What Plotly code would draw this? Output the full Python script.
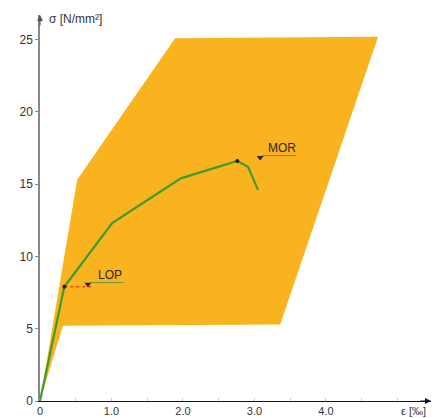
import plotly.graph_objects as go

# Scatter band (envelope) of stress-strain curves
band_strain = [0.0, 0.52, 1.89, 4.73, 3.36, 0.32, 0.0]
band_stress = [0.0, 15.3, 25.1, 25.2, 5.3, 5.2, 0.0]

# Mean stress-strain curve
curve_strain = [0.0, 0.34, 1.01, 1.97, 2.76, 2.91, 3.05]
curve_stress = [0.0, 7.9, 12.3, 15.4, 16.6, 16.2, 14.6]

# Characteristic points
point_names = ["LOP", "MOR"]
point_strain = [0.34, 2.76]
point_stress = [7.9, 16.6]

x_tickvals = [0, 0.5, 1.0, 1.5, 2.0, 2.5, 3.0, 3.5, 4.0, 4.5, 5.0]
x_ticktext = ["0", "", "1.0", "", "2.0", "", "3.0", "", "4.0", "", ""]
y_tickvals = [0, 5, 10, 15, 20, 25]
y_ticktext = ["0", "5", "10", "15", "20", "25"]

ORANGE = "#F8B31F"
GREEN = "#3F9B2C"
FONT = "Liberation Sans, Arial, sans-serif"

fig = go.Figure()

fig.add_trace(go.Scatter(x=band_strain, y=band_stress, mode="lines", fill="toself",
                         fillcolor=ORANGE, line=dict(width=0, color=ORANGE),
                         hoverinfo="skip", showlegend=False))

fig.add_trace(go.Scatter(x=curve_strain, y=curve_stress, mode="lines",
                         line=dict(color=GREEN, width=2.2), showlegend=False))

# Red dotted leader from LOP point
fig.add_trace(go.Scatter(x=[point_strain[0], point_strain[0] + 0.4],
                         y=[point_stress[0], point_stress[0]], mode="lines",
                         line=dict(color="#D0202A", width=1, dash="dot"), showlegend=False))

fig.add_trace(go.Scatter(x=point_strain, y=point_stress, mode="markers",
                         marker=dict(color="#222222", size=4), showlegend=False))

# label markers and underlines
tri_dx = [0.33, 0.32]
tri_dy = [0.17, 0.25]
for i, name in enumerate(point_names):
    tx = point_strain[i] + tri_dx[i]
    ty = point_stress[i] + tri_dy[i]
    fig.add_trace(go.Scatter(x=[tx], y=[ty], mode="markers",
                             marker=dict(symbol="triangle-down", color="#222222", size=6),
                             showlegend=False))
    fig.add_trace(go.Scatter(x=[tx + 0.02, tx + 0.5], y=[ty + 0.12, ty + 0.12], mode="lines",
                             line=dict(color="#6E8F3A", width=1), showlegend=False))
    fig.add_annotation(x=tx + 0.31, y=ty + 0.62, text=name, showarrow=False,
                       font=dict(family=FONT, size=12, color="#2a2a2a"),
                       xanchor="center", yanchor="middle")

X_MAX = 5.47
Y_MAX = 26.7

# axis arrows
fig.add_annotation(x=X_MAX, y=0, ax=-12, ay=0, axref="pixel", ayref="pixel",
                   showarrow=True, arrowhead=2, arrowsize=1, arrowwidth=1.2,
                   arrowcolor="#111133", text="")
fig.add_annotation(x=0, y=Y_MAX, ax=0, ay=12, axref="pixel", ayref="pixel",
                   showarrow=True, arrowhead=2, arrowsize=1, arrowwidth=1.2,
                   arrowcolor="#555555", text="")

fig.add_annotation(x=0.1, y=Y_MAX - 0.25, xref="x", yref="y", text="σ [N/mm²]",
                   showarrow=False, xanchor="left", yanchor="middle",
                   font=dict(family=FONT, size=12, color="#333333"))
fig.add_annotation(x=5.43, y=-0.025, xref="x", yref="paper", text="ε [‰]",
                   showarrow=False, xanchor="right", yanchor="middle",
                   font=dict(family=FONT, size=11, color="#333333"))

fig.update_layout(
    width=441, height=418,
    margin=dict(l=40, r=10, t=15, b=17, autoexpand=False),
    paper_bgcolor="white", plot_bgcolor="white",
    font=dict(family=FONT, size=11, color="#333333"),
    xaxis=dict(range=[0, X_MAX], showgrid=False, zeroline=False,
               showline=True, linecolor="#111133", linewidth=1.2,
               tickmode="array", tickvals=x_tickvals, ticktext=x_ticktext,
               ticks="inside", ticklen=3, tickcolor="#cccccc", tickfont=dict(size=11),
               ticklabelstandoff=0,
               fixedrange=True, automargin=False),
    yaxis=dict(range=[0, Y_MAX], showgrid=False, zeroline=False,
               showline=True, linecolor="#888888", linewidth=1.5,
               tickmode="array", tickvals=y_tickvals, ticktext=y_ticktext,
               ticks="outside", ticklen=3, tickcolor="#888888", tickfont=dict(size=12),
               fixedrange=True, automargin=False),
)

fig.write_html("out.html", config={"displayModeBar": False},
               post_script="document.body.style.margin='0';")
